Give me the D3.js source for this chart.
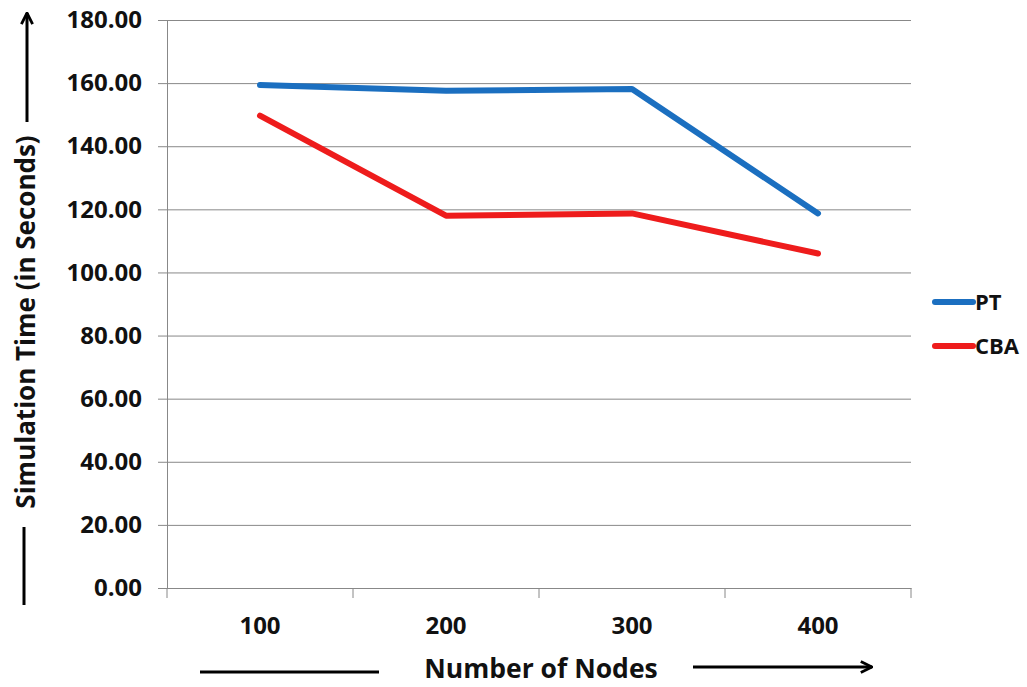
<!DOCTYPE html>
<html>
<head>
<meta charset="utf-8">
<script src="https://cdn.jsdelivr.net/npm/d3@7"></script>
<style>
  html, body { margin: 0; padding: 0; background: #fff; }
  svg { display: block; }
  text { font-family: "Open Sans", "Liberation Sans", sans-serif; font-weight: bold; fill: #111; }
</style>
</head>
<body>
<svg id="chart" width="1027" height="687"></svg>
<script>
// Simulation time per node count for the two schemes
const nodes = ["100", "200", "300", "400"];
const ptTimes = [159.4, 157.6, 158.1, 118.7];
const cbaTimes = [149.7, 118.0, 118.7, 106.0];
const yTicks = [0, 20, 40, 60, 80, 100, 120, 140, 160, 180];
const seriesNames = ["PT", "CBA"];
const seriesColors = ["#1b6fc0", "#ee1c1c"];

const svg = d3.select("#chart");
const plotLeft = 167, plotRight = 911, plotTop = 20, plotBottom = 588;

const x = d3.scaleBand().domain(nodes).range([plotLeft, plotRight]).padding(0);
const y = d3.scaleLinear().domain([0, 180]).range([plotBottom, plotTop]);

// Horizontal gridlines with short ticks to the left of the axis
const yAxis = svg.append("g")
  .attr("transform", `translate(${plotLeft},0)`)
  .call(d3.axisLeft(y).tickValues(yTicks).tickSize(9).tickPadding(16).tickFormat(d3.format(".2f")));
yAxis.select(".domain").attr("stroke", "#888");
yAxis.selectAll(".tick line").attr("stroke", "#888");
yAxis.selectAll(".tick text").style("font-size", "24px").attr("fill", "#111");
yAxis.selectAll(".tick").append("line")
  .attr("x1", 0).attr("x2", plotRight - plotLeft)
  .attr("stroke", "#888").attr("stroke-width", 1);

// Category axis: labels centred in bands, ticks on band boundaries
const xAxis = svg.append("g")
  .attr("transform", `translate(0,${plotBottom})`)
  .call(d3.axisBottom(x).tickSize(0).tickPadding(29));
xAxis.select(".domain").attr("stroke", "#888");
xAxis.selectAll(".tick text").style("font-size", "24px").attr("fill", "#111");
const bounds = nodes.map(n => x(n)).concat([x(nodes[nodes.length - 1]) + x.bandwidth()]);
xAxis.selectAll("line.boundary").data(bounds).enter().append("line")
  .attr("class", "boundary")
  .attr("x1", d => d).attr("x2", d => d)
  .attr("y1", 0).attr("y2", 10)
  .attr("stroke", "#888");

// Series lines
const line = d3.line().x((d, i) => x(nodes[i]) + x.bandwidth() / 2).y(d => y(d));
[ptTimes, cbaTimes].forEach((vals, k) => {
  svg.append("path")
    .datum(vals)
    .attr("d", line)
    .attr("fill", "none")
    .attr("stroke", seriesColors[k])
    .attr("stroke-width", 6)
    .attr("stroke-linecap", "round")
    .attr("stroke-linejoin", "round");
});

// Legend
const legend = svg.append("g").attr("transform", "translate(935,302)");
seriesNames.forEach((name, k) => {
  const g = legend.append("g").attr("transform", `translate(0,${k * 44})`);
  g.append("line").attr("x1", 0).attr("x2", 38).attr("y1", 0).attr("y2", 0)
    .attr("stroke", seriesColors[k]).attr("stroke-width", 6).attr("stroke-linecap", "round");
  g.append("text").attr("x", 40).attr("y", 0).attr("dy", "0.36em")
    .style("font-size", "22px").text(name);
});

// Arrow head for the axis titles
const defs = svg.append("defs");
defs.append("marker")
  .attr("id", "arrow")
  .attr("viewBox", "0 0 10 10")
  .attr("refX", 9).attr("refY", 5)
  .attr("markerWidth", 14).attr("markerHeight", 14)
  .attr("markerUnits", "userSpaceOnUse")
  .attr("orient", "auto")
  .append("path")
  .attr("d", "M1,1 L9,5 L1,9")
  .attr("fill", "none").attr("stroke", "#000").attr("stroke-width", 2);

// X axis title with its leading rule and trailing arrow
svg.append("text")
  .attr("x", 541).attr("y", 668).attr("dy", "0.36em")
  .attr("text-anchor", "middle")
  .style("font-size", "26.5px")
  .text("Number of Nodes");
svg.append("line").attr("x1", 200).attr("x2", 379).attr("y1", 672).attr("y2", 672)
  .attr("stroke", "#000").attr("stroke-width", 3);
svg.append("line").attr("x1", 693).attr("x2", 872).attr("y1", 667).attr("y2", 667)
  .attr("stroke", "#000").attr("stroke-width", 3).attr("marker-end", "url(#arrow)");

// Y axis title with its trailing rule and leading arrow
svg.append("text")
  .attr("transform", "translate(26,322) rotate(-90)")
  .attr("dy", "0.36em")
  .attr("text-anchor", "middle")
  .style("font-size", "26px")
  .text("Simulation Time (in Seconds)");
svg.append("line").attr("x1", 24).attr("x2", 24).attr("y1", 527).attr("y2", 605)
  .attr("stroke", "#000").attr("stroke-width", 3);
svg.append("line").attr("x1", 27).attr("x2", 27).attr("y1", 122).attr("y2", 13)
  .attr("stroke", "#000").attr("stroke-width", 3).attr("marker-end", "url(#arrow)");
</script>
</body>
</html>
